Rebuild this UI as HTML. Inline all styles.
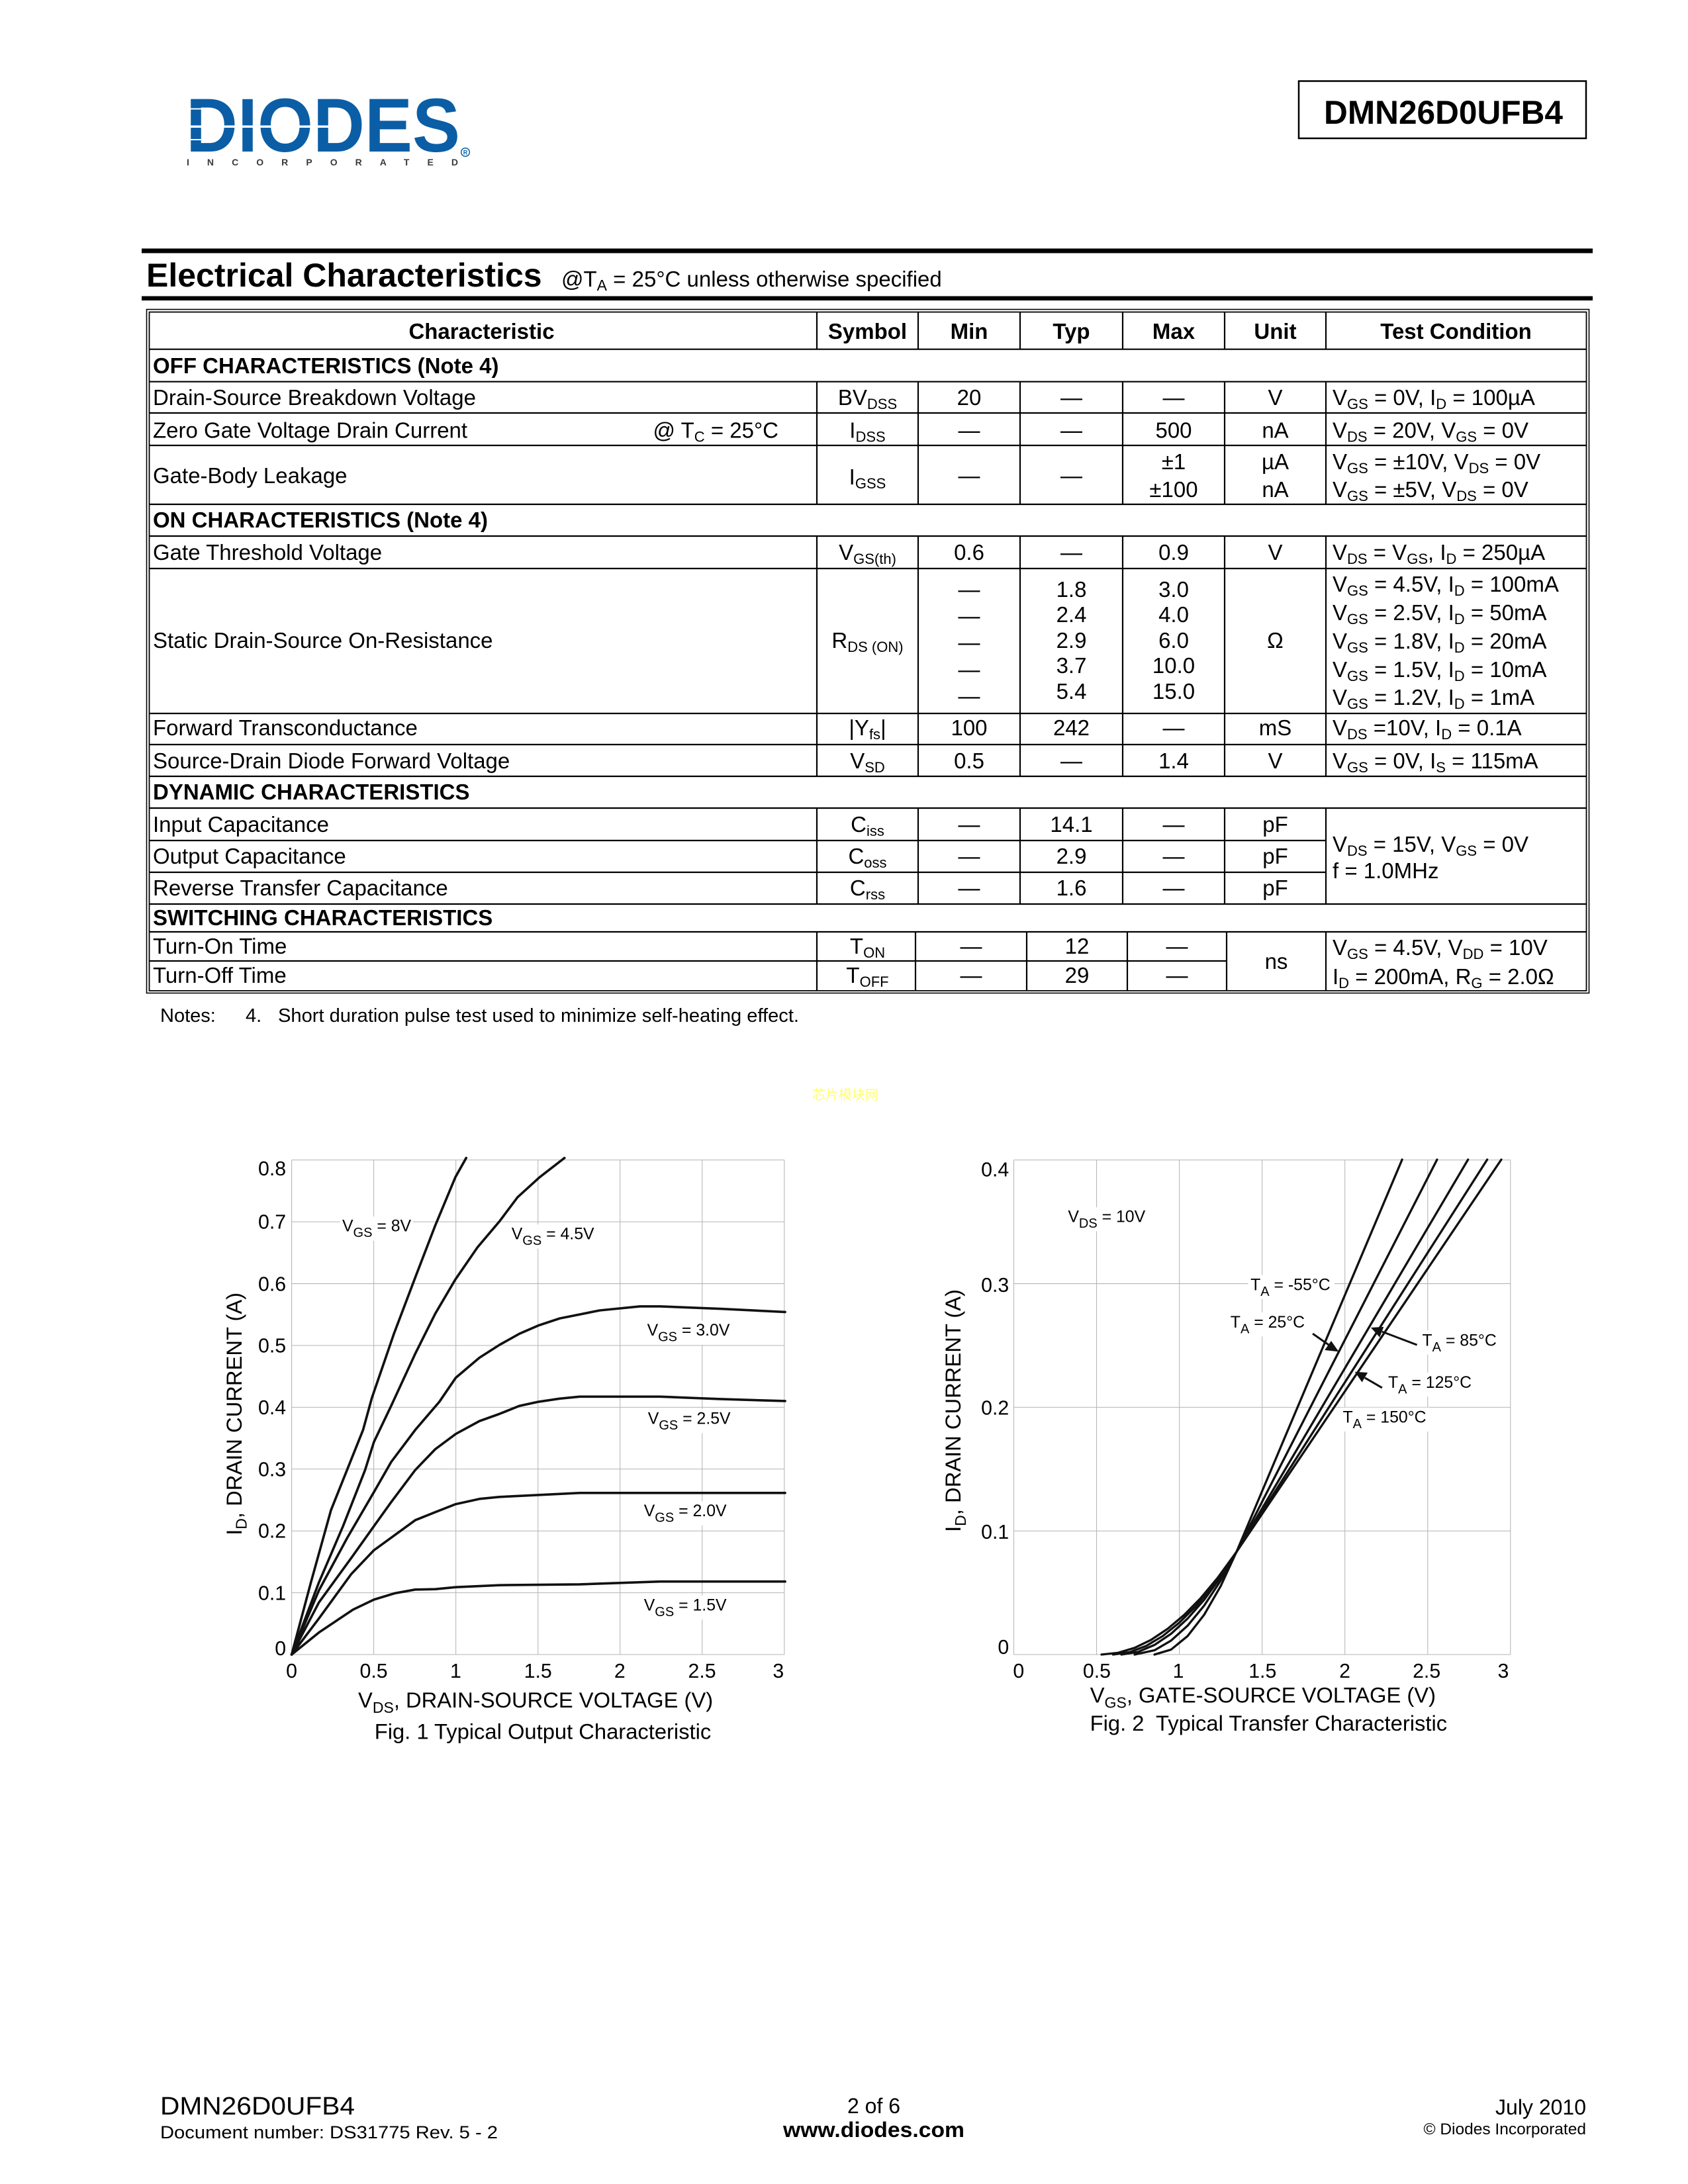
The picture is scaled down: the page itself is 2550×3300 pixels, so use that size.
<!DOCTYPE html>
<html><head><meta charset="utf-8"><style>
html,body{margin:0;padding:0;background:#fff;}
svg{display:block;}
text{font-family:"Liberation Sans",Arial,sans-serif;fill:#000;}
.t{font-size:33px;}
.b{font-weight:bold;}
.s{font-size:22px;}
.m{text-anchor:middle;}
.e{text-anchor:end;}
.tl{font-size:50px;}
.cl{font-size:41px;}
.cs{font-size:33px;}
.at{font-size:54px;}
</style></head><body>
<svg width="2550" height="3300" viewBox="0 0 2550 3300" xmlns="http://www.w3.org/2000/svg">
<rect width="2550" height="3300" fill="#fff"/>

<!-- Logo -->
<text x="281" y="229" font-size="115" font-weight="bold" textLength="414" lengthAdjust="spacingAndGlyphs" style="fill:#0b5ea5">DIODES</text>
<rect x="281" y="189.5" width="220" height="3.5" fill="#fff"/>
<rect x="281" y="163.5" width="24" height="2" fill="#fff"/>
<rect x="281" y="210" width="24" height="2" fill="#fff"/>
<text x="282" y="250" font-size="14" font-weight="bold" textLength="410" lengthAdjust="spacing" style="fill:#3a3a3a">INCORPORATED</text>
<circle cx="703" cy="230" r="6.3" fill="none" stroke="#0b5ea5" stroke-width="1.5"/>
<text x="703" y="233.5" font-size="9" font-weight="bold" text-anchor="middle" style="fill:#0b5ea5">R</text>

<!-- Part number box -->
<rect x="1962" y="122.5" width="434" height="86.5" fill="none" stroke="#000" stroke-width="2.5"/>
<text x="2000" y="187" font-size="50" font-weight="bold" textLength="361" lengthAdjust="spacingAndGlyphs">DMN26D0UFB4</text>

<!-- Title rules -->
<rect x="214" y="375.5" width="2192" height="7" fill="#000"/>
<rect x="214" y="447.5" width="2192" height="6.5" fill="#000"/>
<text x="221" y="433" font-size="50" font-weight="bold">Electrical Characteristics</text>
<text x="848" y="433" font-size="33">@T<tspan font-size="23" dy="6">A</tspan><tspan dy="-6"> = 25°C unless otherwise specified</tspan></text>

<!-- Table frame -->
<rect x="221.5" y="467.5" width="2179" height="1033" fill="none" stroke="#000" stroke-width="1.6"/>
<rect x="225.5" y="471.5" width="2171" height="1025.5" fill="none" stroke="#000" stroke-width="1.8"/>
<g stroke="#000" stroke-width="2.2">
<line x1="225.5" y1="527.7" x2="2396.5" y2="527.7"/>
<line x1="225.5" y1="576.7" x2="2396.5" y2="576.7"/>
<line x1="225.5" y1="624" x2="2396.5" y2="624"/>
<line x1="225.5" y1="673" x2="2396.5" y2="673"/>
<line x1="225.5" y1="762" x2="2396.5" y2="762"/>
<line x1="225.5" y1="810" x2="2396.5" y2="810"/>
<line x1="225.5" y1="859" x2="2396.5" y2="859"/>
<line x1="225.5" y1="1078" x2="2396.5" y2="1078"/>
<line x1="225.5" y1="1125" x2="2396.5" y2="1125"/>
<line x1="225.5" y1="1173" x2="2396.5" y2="1173"/>
<line x1="225.5" y1="1221" x2="2396.5" y2="1221"/>
<line x1="225.5" y1="1270" x2="2003" y2="1270"/>
<line x1="225.5" y1="1318" x2="2003" y2="1318"/>
<line x1="225.5" y1="1366" x2="2396.5" y2="1366"/>
<line x1="225.5" y1="1408" x2="2396.5" y2="1408"/>
<line x1="225.5" y1="1452" x2="1853" y2="1452"/>
<!-- verticals -->
<path d="M1234 471.5V527.7M1387 471.5V527.7M1541 471.5V527.7M1696 471.5V527.7M1850 471.5V527.7M2003 471.5V527.7
M1234 576.7V762M1387 576.7V762M1541 576.7V762M1696 576.7V762M1850 576.7V762M2003 576.7V762
M1234 810V1173M1387 810V1173M1541 810V1173M1696 810V1173M1850 810V1173M2003 810V1173
M1234 1221V1366M1387 1221V1366M1541 1221V1366M1696 1221V1366M1850 1221V1366M2003 1221V1366
M1234 1408V1497M1383 1408V1497M1551 1408V1497M1703 1408V1497M1853 1408V1497M2003 1408V1497" fill="none"/>
</g>

<!-- Header row -->
<g class="t b">
<text class="m" x="727.5" y="512">Characteristic</text>
<text class="m" x="1310.5" y="512">Symbol</text>
<text class="m" x="1464" y="512">Min</text>
<text class="m" x="1618.5" y="512">Typ</text>
<text class="m" x="1773" y="512">Max</text>
<text class="m" x="1926.5" y="512">Unit</text>
<text class="m" x="2199.5" y="512">Test Condition</text>
<text x="231" y="564">OFF CHARACTERISTICS (Note 4)</text>
<text x="231" y="797">ON CHARACTERISTICS (Note 4)</text>
<text x="231" y="1208">DYNAMIC CHARACTERISTICS</text>
<text x="231" y="1398">SWITCHING CHARACTERISTICS</text>
</g>

<g class="t">
<!-- BVDSS -->
<text x="231" y="612">Drain-Source Breakdown Voltage</text>
<text class="m" x="1310.5" y="612">BV<tspan class="s" dy="6">DSS</tspan></text>
<text class="m" x="1464" y="612">20</text>
<text class="m" x="1618.5" y="612">—</text>
<text class="m" x="1773" y="612">—</text>
<text class="m" x="1926.5" y="612">V</text>
<text x="2013" y="612">V<tspan class="s" dy="6">GS</tspan><tspan dy="-6"> = 0V, I</tspan><tspan class="s" dy="6">D</tspan><tspan dy="-6"> = 100µA</tspan></text>
<!-- IDSS -->
<text x="231" y="661.5">Zero Gate Voltage Drain Current</text>
<text class="e" x="1176" y="661.5">@ T<tspan class="s" dy="6">C</tspan><tspan dy="-6"> = 25°C</tspan></text>
<text class="m" x="1310.5" y="661.5">I<tspan class="s" dy="6">DSS</tspan></text>
<text class="m" x="1464" y="661.5">—</text>
<text class="m" x="1618.5" y="661.5">—</text>
<text class="m" x="1773" y="661.5">500</text>
<text class="m" x="1926.5" y="661.5">nA</text>
<text x="2013" y="661.5">V<tspan class="s" dy="6">DS</tspan><tspan dy="-6"> = 20V, V</tspan><tspan class="s" dy="6">GS</tspan><tspan dy="-6"> = 0V</tspan></text>
<!-- IGSS -->
<text x="231" y="730">Gate-Body Leakage</text>
<text class="m" x="1310.5" y="732">I<tspan class="s" dy="6">GSS</tspan></text>
<text class="m" x="1464" y="730">—</text>
<text class="m" x="1618.5" y="730">—</text>
<text class="m" x="1773" y="709">±1</text>
<text class="m" x="1773" y="751">±100</text>
<text class="m" x="1926.5" y="709">µA</text>
<text class="m" x="1926.5" y="751">nA</text>
<text x="2013" y="709">V<tspan class="s" dy="6">GS</tspan><tspan dy="-6"> = ±10V, V</tspan><tspan class="s" dy="6">DS</tspan><tspan dy="-6"> = 0V</tspan></text>
<text x="2013" y="751">V<tspan class="s" dy="6">GS</tspan><tspan dy="-6"> = ±5V, V</tspan><tspan class="s" dy="6">DS</tspan><tspan dy="-6"> = 0V</tspan></text>
<!-- VGS(th) -->
<text x="231" y="846">Gate Threshold Voltage</text>
<text class="m" x="1310.5" y="846">V<tspan class="s" dy="6">GS(th)</tspan></text>
<text class="m" x="1464" y="846">0.6</text>
<text class="m" x="1618.5" y="846">—</text>
<text class="m" x="1773" y="846">0.9</text>
<text class="m" x="1926.5" y="846">V</text>
<text x="2013" y="846">V<tspan class="s" dy="6">DS</tspan><tspan dy="-6"> = V</tspan><tspan class="s" dy="6">GS</tspan><tspan dy="-6">, I</tspan><tspan class="s" dy="6">D</tspan><tspan dy="-6"> = 250µA</tspan></text>
<!-- RDS(on) -->
<text x="231" y="979">Static Drain-Source On-Resistance</text>
<text class="m" x="1310.5" y="979">R<tspan class="s" dy="6">DS (ON)</tspan></text>
<text class="m" x="1464" y="902">—</text>
<text class="m" x="1464" y="942">—</text>
<text class="m" x="1464" y="982">—</text>
<text class="m" x="1464" y="1023">—</text>
<text class="m" x="1464" y="1063">—</text>
<text class="m" x="1618.5" y="902">1.8</text>
<text class="m" x="1618.5" y="940">2.4</text>
<text class="m" x="1618.5" y="979">2.9</text>
<text class="m" x="1618.5" y="1017">3.7</text>
<text class="m" x="1618.5" y="1056">5.4</text>
<text class="m" x="1773" y="902">3.0</text>
<text class="m" x="1773" y="940">4.0</text>
<text class="m" x="1773" y="979">6.0</text>
<text class="m" x="1773" y="1017">10.0</text>
<text class="m" x="1773" y="1056">15.0</text>
<text class="m" x="1926.5" y="979">Ω</text>
<text x="2013" y="894">V<tspan class="s" dy="6">GS</tspan><tspan dy="-6"> = 4.5V, I</tspan><tspan class="s" dy="6">D</tspan><tspan dy="-6"> = 100mA</tspan></text>
<text x="2013" y="937">V<tspan class="s" dy="6">GS</tspan><tspan dy="-6"> = 2.5V, I</tspan><tspan class="s" dy="6">D</tspan><tspan dy="-6"> = 50mA</tspan></text>
<text x="2013" y="980">V<tspan class="s" dy="6">GS</tspan><tspan dy="-6"> = 1.8V, I</tspan><tspan class="s" dy="6">D</tspan><tspan dy="-6"> = 20mA</tspan></text>
<text x="2013" y="1023">V<tspan class="s" dy="6">GS</tspan><tspan dy="-6"> = 1.5V, I</tspan><tspan class="s" dy="6">D</tspan><tspan dy="-6"> = 10mA</tspan></text>
<text x="2013" y="1065">V<tspan class="s" dy="6">GS</tspan><tspan dy="-6"> = 1.2V, I</tspan><tspan class="s" dy="6">D</tspan><tspan dy="-6"> = 1mA</tspan></text>
<!-- Yfs -->
<text x="231" y="1111">Forward Transconductance</text>
<text class="m" x="1310.5" y="1111">|Y<tspan class="s" dy="6">fs</tspan><tspan dy="-6">|</tspan></text>
<text class="m" x="1464" y="1111">100</text>
<text class="m" x="1618.5" y="1111">242</text>
<text class="m" x="1773" y="1111">—</text>
<text class="m" x="1926.5" y="1111">mS</text>
<text x="2013" y="1111">V<tspan class="s" dy="6">DS</tspan><tspan dy="-6"> =10V, I</tspan><tspan class="s" dy="6">D</tspan><tspan dy="-6"> = 0.1A</tspan></text>
<!-- VSD -->
<text x="231" y="1161">Source-Drain Diode Forward Voltage</text>
<text class="m" x="1310.5" y="1161">V<tspan class="s" dy="6">SD</tspan></text>
<text class="m" x="1464" y="1161">0.5</text>
<text class="m" x="1618.5" y="1161">—</text>
<text class="m" x="1773" y="1161">1.4</text>
<text class="m" x="1926.5" y="1161">V</text>
<text x="2013" y="1161">V<tspan class="s" dy="6">GS</tspan><tspan dy="-6"> = 0V, I</tspan><tspan class="s" dy="6">S</tspan><tspan dy="-6"> = 115mA</tspan></text>
<!-- Capacitances -->
<text x="231" y="1257">Input Capacitance</text>
<text class="m" x="1310.5" y="1257">C<tspan class="s" dy="6">iss</tspan></text>
<text class="m" x="1464" y="1257">—</text>
<text class="m" x="1618.5" y="1257">14.1</text>
<text class="m" x="1773" y="1257">—</text>
<text class="m" x="1926.5" y="1257">pF</text>
<text x="231" y="1305">Output Capacitance</text>
<text class="m" x="1310.5" y="1305">C<tspan class="s" dy="6">oss</tspan></text>
<text class="m" x="1464" y="1305">—</text>
<text class="m" x="1618.5" y="1305">2.9</text>
<text class="m" x="1773" y="1305">—</text>
<text class="m" x="1926.5" y="1305">pF</text>
<text x="231" y="1353">Reverse Transfer Capacitance</text>
<text class="m" x="1310.5" y="1353">C<tspan class="s" dy="6">rss</tspan></text>
<text class="m" x="1464" y="1353">—</text>
<text class="m" x="1618.5" y="1353">1.6</text>
<text class="m" x="1773" y="1353">—</text>
<text class="m" x="1926.5" y="1353">pF</text>
<text x="2013" y="1287">V<tspan class="s" dy="6">DS</tspan><tspan dy="-6"> = 15V, V</tspan><tspan class="s" dy="6">GS</tspan><tspan dy="-6"> = 0V</tspan></text>
<text x="2013" y="1327">f = 1.0MHz</text>
<!-- Switching -->
<text x="231" y="1441">Turn-On Time</text>
<text class="m" x="1310.5" y="1441">T<tspan class="s" dy="6">ON</tspan></text>
<text class="m" x="1467" y="1441">—</text>
<text class="m" x="1627" y="1441">12</text>
<text class="m" x="1778" y="1441">—</text>
<text x="231" y="1485">Turn-Off Time</text>
<text class="m" x="1310.5" y="1485">T<tspan class="s" dy="6">OFF</tspan></text>
<text class="m" x="1467" y="1485">—</text>
<text class="m" x="1627" y="1485">29</text>
<text class="m" x="1778" y="1485">—</text>
<text class="m" x="1928" y="1464">ns</text>
<text x="2013" y="1443">V<tspan class="s" dy="6">GS</tspan><tspan dy="-6"> = 4.5V, V</tspan><tspan class="s" dy="6">DD</tspan><tspan dy="-6"> = 10V</tspan></text>
<text x="2013" y="1487">I<tspan class="s" dy="6">D</tspan><tspan dy="-6"> = 200mA, R</tspan><tspan class="s" dy="6">G</tspan><tspan dy="-6"> = 2.0Ω</tspan></text>
</g>

<!-- Notes -->
<text x="242" y="1544" font-size="29">Notes:</text>
<text x="371" y="1544" font-size="29">4.</text>
<text x="420" y="1544" font-size="29" textLength="787" lengthAdjust="spacingAndGlyphs">Short duration pulse test used to minimize self-heating effect.</text>

<!-- watermark -->
<text x="1227" y="1661" font-size="20" style="fill:#ffff70;font-family:'Liberation Sans','Noto Sans CJK SC',sans-serif">芯片模块网</text>

<!-- ================= FIG 1 ================= -->
<g transform="translate(300,1700) scale(0.606061)">
<g stroke="#b4b4b4" stroke-width="1.7" fill="none">
<path d="M232 87V1320M436.6 87V1320M641.3 87V1320M846 87V1320M1050.6 87V1320M1255.3 87V1320M1460 87V1320"/>
<path d="M232 87H1460M232 241.1H1460M232 395.3H1460M232 549.4H1460M232 703.5H1460M232 857.6H1460M232 1011.8H1460M232 1165.9H1460M232 1320H1460"/>
</g>
<g fill="#fff">
<rect x="352" y="228" width="182" height="60"/>
<rect x="774" y="248" width="222" height="60"/>
<rect x="1112" y="488" width="222" height="60"/>
<rect x="1114" y="708" width="222" height="60"/>
<rect x="1104" y="938" width="222" height="60"/>
<rect x="1104" y="1173" width="222" height="60"/>
</g>
<g stroke="#111" stroke-width="6" fill="none" stroke-linejoin="round" stroke-linecap="round">
<polyline points="232,1320 280,1140 330,960 370,860 410,760 432,680 487,520 540,380 590,250 640,130 667,82"/>
<polyline points="232,1320 300,1140 360,1000 415,860 437,790 480,700 540,570 590,470 640,385 695,305 750,240 795,180 850,130 912,82"/>
<polyline points="232,1320 300,1160 370,1030 437,915 480,840 540,760 600,690 641,630 700,580 750,548 800,520 846,500 900,482 1000,462 1100,452 1150,452 1300,458 1462,466"/>
<polyline points="232,1320 300,1190 380,1080 437,1000 480,940 540,860 590,808 641,770 700,738 750,720 800,700 846,690 900,682 950,677 1150,677 1300,683 1462,688"/>
<polyline points="232,1320 300,1230 380,1120 437,1060 540,985 590,965 641,945 700,932 750,927 950,917 1462,917"/>
<polyline points="232,1320 300,1265 385,1208 437,1183 490,1167 540,1158 590,1157 641,1152 750,1147 950,1145 1150,1138 1462,1138"/>
</g>
<g font-size="50">
<text class="e" x="218" y="125">0.8</text>
<text class="e" x="218" y="258">0.7</text>
<text class="e" x="218" y="413">0.6</text>
<text class="e" x="218" y="567">0.5</text>
<text class="e" x="218" y="721">0.4</text>
<text class="e" x="218" y="875">0.3</text>
<text class="e" x="218" y="1029">0.2</text>
<text class="e" x="218" y="1184">0.1</text>
<text class="e" x="218" y="1322">0</text>
<text class="m" x="232" y="1378">0</text>
<text class="m" x="436.6" y="1378">0.5</text>
<text class="m" x="641" y="1378">1</text>
<text class="m" x="846" y="1378">1.5</text>
<text class="m" x="1050" y="1378">2</text>
<text class="m" x="1255" y="1378">2.5</text>
<text class="m" x="1445" y="1378">3</text>
</g>
<g class="cl">
<text x="358" y="265">V<tspan class="cs" dy="14">GS</tspan><tspan dy="-14"> = 8V</tspan></text>
<text x="780" y="285">V<tspan class="cs" dy="14">GS</tspan><tspan dy="-14"> = 4.5V</tspan></text>
<text x="1118" y="525">V<tspan class="cs" dy="14">GS</tspan><tspan dy="-14"> = 3.0V</tspan></text>
<text x="1120" y="745">V<tspan class="cs" dy="14">GS</tspan><tspan dy="-14"> = 2.5V</tspan></text>
<text x="1110" y="975">V<tspan class="cs" dy="14">GS</tspan><tspan dy="-14"> = 2.0V</tspan></text>
<text x="1110" y="1210">V<tspan class="cs" dy="14">GS</tspan><tspan dy="-14"> = 1.5V</tspan></text>
</g>
<text class="m at" x="840" y="1452">V<tspan font-size="38" dy="13">DS</tspan><tspan dy="-13">, DRAIN-SOURCE VOLTAGE (V)</tspan></text>
<text class="m at" x="858" y="1530">Fig. 1 Typical Output Characteristic</text>
<text class="m at" transform="translate(107,720) rotate(-90)">I<tspan font-size="38" dy="13">D</tspan><tspan dy="-13">, DRAIN CURRENT (A)</tspan></text>
</g>

<!-- ================= FIG 2 ================= -->
<g transform="translate(1380,1700) scale(0.606061)">
<g stroke="#b4b4b4" stroke-width="1.7" fill="none">
<path d="M250 87V1320M456.3 87V1320M662.7 87V1320M869 87V1320M1075.3 87V1320M1281.7 87V1320M1488 87V1320"/>
<path d="M250 87H1488M250 395.3H1488M250 703.5H1488M250 1011.8H1488M250 1320H1488"/>
</g>
<g fill="#fff">
<rect x="380" y="205" width="206" height="60"/>
<rect x="834" y="374" width="215" height="60"/>
<rect x="784" y="467" width="200" height="60"/>
<rect x="1262" y="512" width="200" height="60"/>
<rect x="1177" y="617" width="222" height="60"/>
<rect x="1064" y="704" width="222" height="60"/>
</g>
<g stroke="#111" stroke-width="5.5" fill="none" stroke-linejoin="round" stroke-linecap="round">
<polyline points="600.7,1320 642,1307.6 683.2,1273.9 724.5,1220.8 765.8,1149.1 804.9,1064.4 1217.9,86"/>
<polyline points="551.2,1320 600.7,1309.3 642,1285.2 683.2,1248.1 724.5,1198 765.8,1135.3 804.9,1064.4 1305,86"/>
<polyline points="518.2,1320 559.5,1313.5 600.7,1296 642,1268.2 683.2,1230.4 724.5,1183.5 765.8,1126.8 804.9,1064.4 1382.2,86"/>
<polyline points="497.6,1320 538.8,1314.1 580.1,1298.5 621.3,1273.8 662.6,1240.5 703.9,1199.3 745.1,1150 804.9,1064.4 1430,86"/>
<polyline points="468.7,1320 509.9,1315.7 551.2,1303.3 592.5,1283.2 633.7,1255.7 675,1220.9 716.2,1178.9 757.5,1129.6 804.9,1064.4 1465.1,86"/>
</g>
<!-- arrows -->
<g stroke="#111" stroke-width="5" fill="none">
<line x1="995" y1="520" x2="1035" y2="548"/>
<line x1="1255" y1="548" x2="1168" y2="515"/>
<line x1="1168" y1="655" x2="1125" y2="630"/>
</g>
<g fill="#111">
<polygon points="1060,565 1025,561 1041,538"/>
<polygon points="1140,505 1172,503 1162,529"/>
<polygon points="1100,615 1132,617 1118,641"/>
</g>
<g font-size="50">
<text class="e" x="238" y="128">0.4</text>
<text class="e" x="238" y="416">0.3</text>
<text class="e" x="238" y="722">0.2</text>
<text class="e" x="238" y="1031">0.1</text>
<text class="e" x="238" y="1318">0</text>
<text class="m" x="262" y="1378">0</text>
<text class="m" x="457" y="1378">0.5</text>
<text class="m" x="660" y="1378">1</text>
<text class="m" x="870" y="1378">1.5</text>
<text class="m" x="1075" y="1378">2</text>
<text class="m" x="1279" y="1378">2.5</text>
<text class="m" x="1470" y="1378">3</text>
</g>
<g class="cl">
<text x="385" y="242">V<tspan class="cs" dy="14">DS</tspan><tspan dy="-14"> = 10V</tspan></text>
<text x="840" y="412">T<tspan class="cs" dy="14">A</tspan><tspan dy="-14"> = -55°C</tspan></text>
<text x="790" y="505">T<tspan class="cs" dy="14">A</tspan><tspan dy="-14"> = 25°C</tspan></text>
<text x="1268" y="550">T<tspan class="cs" dy="14">A</tspan><tspan dy="-14"> = 85°C</tspan></text>
<text x="1183" y="655">T<tspan class="cs" dy="14">A</tspan><tspan dy="-14"> = 125°C</tspan></text>
<text x="1070" y="742">T<tspan class="cs" dy="14">A</tspan><tspan dy="-14"> = 150°C</tspan></text>
</g>
<text class="m at" x="871" y="1440">V<tspan font-size="38" dy="13">GS</tspan><tspan dy="-13">, GATE-SOURCE VOLTAGE (V)</tspan></text>
<text class="m at" x="885" y="1510" xml:space="preserve">Fig. 2  Typical Transfer Characteristic</text>
<text class="m at" transform="translate(117,712) rotate(-90)">I<tspan font-size="38" dy="13">D</tspan><tspan dy="-13">, DRAIN CURRENT (A)</tspan></text>
</g>

<!-- Footer -->
<text x="242" y="3195" font-size="38" textLength="294" lengthAdjust="spacingAndGlyphs">DMN26D0UFB4</text>
<text x="242" y="3231" font-size="27" textLength="510" lengthAdjust="spacingAndGlyphs">Document number: DS31775 Rev. 5 - 2</text>
<text x="1320" y="3193" font-size="32" text-anchor="middle">2 of 6</text>
<text x="1320" y="3229" font-size="32" font-weight="bold" text-anchor="middle" textLength="274" lengthAdjust="spacingAndGlyphs">www.diodes.com</text>
<text x="2396" y="3195" font-size="32" text-anchor="end">July 2010</text>
<text x="2396" y="3225" font-size="24.5" text-anchor="end">© Diodes Incorporated</text>
</svg>
</body></html>
